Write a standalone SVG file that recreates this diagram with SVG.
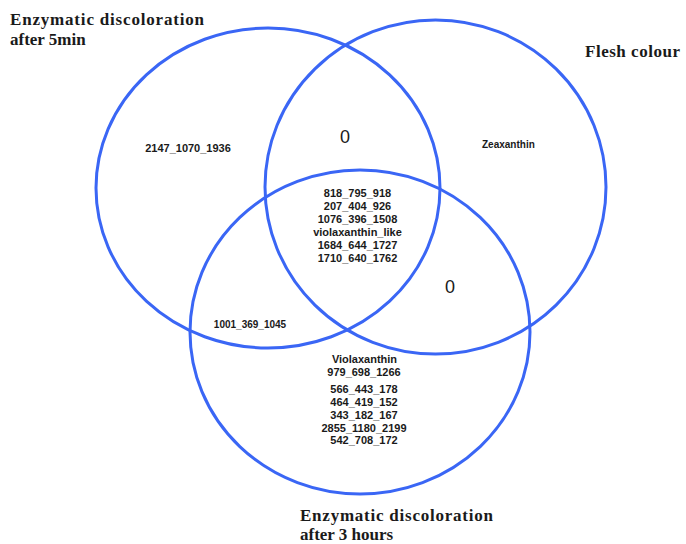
<svg xmlns="http://www.w3.org/2000/svg" width="686" height="544" viewBox="0 0 686 544">
<style>
.c{fill:none;stroke:#3a66f5;stroke-width:3}
.t{font-family:"Liberation Serif","Times New Roman",serif;font-weight:bold;font-size:17px;fill:#1a1a1a}
.l{font-family:"Liberation Sans",Arial,sans-serif;font-weight:bold;font-size:11px;fill:#1a1a1a;text-anchor:middle}
.z{font-family:"Liberation Sans",Arial,sans-serif;font-size:18px;fill:#1a1a1a;text-anchor:middle}
</style>
<rect width="686" height="544" fill="#ffffff"/>
<g id="connectors"></g>
<g id="set-5min">
<ellipse class="c" cx="268" cy="188" rx="172" ry="160"/>
<text class="t" x="10" y="25" textLength="194">Enzymatic discoloration</text>
<text class="t" x="10" y="45">after 5min</text>
</g>
<g id="set-flesh">
<ellipse class="c" cx="435.5" cy="187" rx="170.5" ry="167"/>
<text class="t" x="585" y="57" textLength="95">Flesh colour</text>
</g>
<g id="set-3hours">
<ellipse class="c" cx="360" cy="332" rx="170" ry="162"/>
<text class="t" x="300" y="521" textLength="193">Enzymatic discoloration</text>
<text class="t" x="300" y="540">after 3 hours</text>
</g>
<g id="region-5min-only">
<text class="l" x="188" y="152">2147_1070_1936</text>
</g>
<g id="region-5min-flesh">
<text class="z" x="345" y="143">0</text>
</g>
<g id="region-flesh-only">
<text class="l" x="482" y="148" style="text-anchor:start;font-size:10px">Zeaxanthin</text>
</g>
<g id="region-all">
<text class="l" x="357.5" y="197">818_795_918</text>
<text class="l" x="357.5" y="210">207_404_926</text>
<text class="l" x="357.5" y="223">1076_396_1508</text>
<text class="l" x="357.5" y="236">violaxanthin_like</text>
<text class="l" x="357.5" y="249">1684_644_1727</text>
<text class="l" x="357.5" y="262">1710_640_1762</text>
</g>
<g id="region-flesh-3hours">
<text class="z" x="450" y="293">0</text>
</g>
<g id="region-5min-3hours">
<text class="l" x="250" y="328" style="font-size:10px">1001_369_1045</text>
</g>
<g id="region-3hours-only">
<text class="l" x="364.5" y="363">Violaxanthin</text>
<text class="l" x="364" y="376">979_698_1266</text>
<text class="l" x="364" y="393">566_443_178</text>
<text class="l" x="364" y="406">464_419_152</text>
<text class="l" x="364" y="419">343_182_167</text>
<text class="l" x="364" y="432">2855_1180_2199</text>
<text class="l" x="364" y="444">542_708_172</text>
</g>
</svg>
